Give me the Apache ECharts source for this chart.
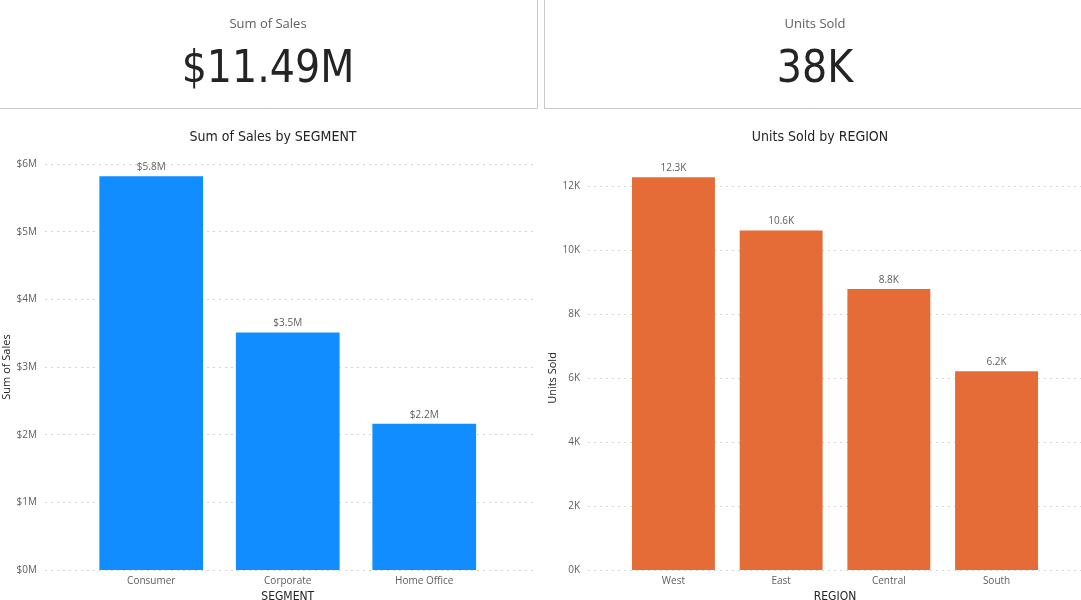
<!DOCTYPE html>
<html>
<head>
<meta charset="utf-8">
<script src="https://cdn.jsdelivr.net/npm/echarts@6/dist/echarts.min.js"></script>
<style>
html,body{margin:0;padding:0;background:#fff;}
#c{width:1081px;height:600px;}
</style>
</head>
<body>
<div id="c"></div>
<script>
// ---- data ----
const segments = ['Consumer', 'Corporate', 'Home Office'];
const salesBySegment = [5820000, 3510000, 2160000];
const regions = ['West', 'East', 'Central', 'South'];
const unitsByRegion = [12270, 10610, 8780, 6210];
const cardSalesLabel = 'Sum of Sales';
const cardSalesValue = '$11.49M';
const cardUnitsLabel = 'Units Sold';
const cardUnitsValue = '38K';

const chart = echarts.init(document.getElementById('c'));
const labelFont = '"Open Sans", "Noto Sans", sans-serif';
const dinFont = '"DejaVu Sans Condensed", "DejaVu Sans", sans-serif';
const gridColor = '#d6d6d6';
const labelColor = '#605E5C';

const fmtM = v => '$' + (v / 1e6).toFixed(0) + 'M';
const fmtM1 = v => '$' + (v / 1e6).toFixed(1) + 'M';
const fmtK = v => (v / 1000).toFixed(0) + 'K';
const fmtK1 = v => (v / 1000).toFixed(1) + 'K';

const option = {
  animation: false,
  textStyle: { fontFamily: labelFont },
  title: [
    { text: 'Sum of Sales by SEGMENT', left: 268, top: 125, textAlign: 'center',
      textStyle: { fontFamily: dinFont, fontSize: 14, fontWeight: 'normal', color: '#252423' } },
    { text: 'Units Sold by REGION', left: 815, top: 125, textAlign: 'center',
      textStyle: { fontFamily: dinFont, fontSize: 14, fontWeight: 'normal', color: '#252423' } }
  ],
  graphic: [
    { type: 'rect', shape: { x: -1.5, y: -1.5, width: 539, height: 110 }, style: { fill: 'none', stroke: '#c8c8c8', lineWidth: 1 } },
    { type: 'rect', shape: { x: 544.5, y: -1.5, width: 600, height: 110 }, style: { fill: 'none', stroke: '#c8c8c8', lineWidth: 1 } },
    { type: 'text', x: 268, y: 24, style: { text: cardSalesLabel, fill: '#605E5C', font: '13px "Open Sans", sans-serif', textAlign: 'center', textVerticalAlign: 'middle' } },
    { type: 'text', x: 268, y: 71, style: { text: cardSalesValue, fill: '#252423', font: '44px "DejaVu Sans Condensed", "DejaVu Sans", sans-serif', textAlign: 'center', textVerticalAlign: 'middle' } },
    { type: 'text', x: 815, y: 24, style: { text: cardUnitsLabel, fill: '#605E5C', font: '13px "Open Sans", sans-serif', textAlign: 'center', textVerticalAlign: 'middle' } },
    { type: 'text', x: 815, y: 71, style: { text: cardUnitsValue, fill: '#252423', font: '44px "DejaVu Sans Condensed", "DejaVu Sans", sans-serif', textAlign: 'center', textVerticalAlign: 'middle' } }
  ],
  grid: [
    { left: 45, width: 490, top: 164, bottom: 30, outerBoundsMode: 'none', containLabel: false },
    { left: 83, width: 409.5, top: 164, bottom: 30, outerBoundsMode: 'none', containLabel: false },
    { left: 588, width: 493, top: 186, bottom: 30, outerBoundsMode: 'none', containLabel: false },
    { left: 619.6, width: 430.8, top: 154, bottom: 30, outerBoundsMode: 'none', containLabel: false }
  ],
  xAxis: [
    { gridIndex: 0, type: 'category', data: [''], show: false },
    { gridIndex: 1, type: 'category', data: segments,
      axisLine: { show: false }, axisTick: { show: false },
      axisLabel: { color: labelColor, fontSize: 10, margin: 6 },
      name: 'SEGMENT', nameLocation: 'middle', nameGap: 21,
      nameTextStyle: { fontFamily: dinFont, fontSize: 12, color: '#252423' } },
    { gridIndex: 2, type: 'category', data: [''], show: false },
    { gridIndex: 3, type: 'category', data: regions,
      axisLine: { show: false }, axisTick: { show: false },
      axisLabel: { color: labelColor, fontSize: 10, margin: 6 },
      name: 'REGION', nameLocation: 'middle', nameGap: 21,
      nameTextStyle: { fontFamily: dinFont, fontSize: 12, color: '#252423' } }
  ],
  yAxis: [
    { gridIndex: 0, type: 'value', min: 0, max: 6000000, interval: 1000000,
      axisLine: { show: false }, axisTick: { show: false },
      axisLabel: { color: labelColor, fontSize: 10, margin: 8, formatter: fmtM },
      splitLine: { lineStyle: { color: gridColor, type: [2, 4], width: 1 } },
      name: 'Sum of Sales', nameLocation: 'middle', nameGap: 33,
      nameTextStyle: { fontSize: 11, color: '#252423' } },
    { gridIndex: 1, type: 'value', min: 0, max: 6000000, show: false, splitLine: { show: false } },
    { gridIndex: 2, type: 'value', min: 0, max: 12000, interval: 2000,
      axisLine: { show: false }, axisTick: { show: false },
      axisLabel: { color: labelColor, fontSize: 10, margin: 8, formatter: fmtK },
      splitLine: { lineStyle: { color: gridColor, type: [2, 4], width: 1 } },
      name: 'Units Sold', nameLocation: 'middle', nameGap: 30,
      nameTextStyle: { fontSize: 11, color: '#252423' } },
    { gridIndex: 3, type: 'value', min: 0, max: 13000, show: false, splitLine: { show: false } }
  ],
  series: [
    { type: 'bar', xAxisIndex: 1, yAxisIndex: 1, data: salesBySegment, barCategoryGap: '24%',
      itemStyle: { color: '#118DFF' },
      label: { show: true, position: 'top', distance: 4, color: labelColor, fontSize: 10, formatter: p => fmtM1(p.value) } },
    { type: 'bar', xAxisIndex: 3, yAxisIndex: 3, data: unitsByRegion, barCategoryGap: '23%',
      itemStyle: { color: '#E66C37' },
      label: { show: true, position: 'top', distance: 4, color: labelColor, fontSize: 10, formatter: p => fmtK1(p.value) } }
  ]
};
chart.setOption(option);
</script>
</body>
</html>
